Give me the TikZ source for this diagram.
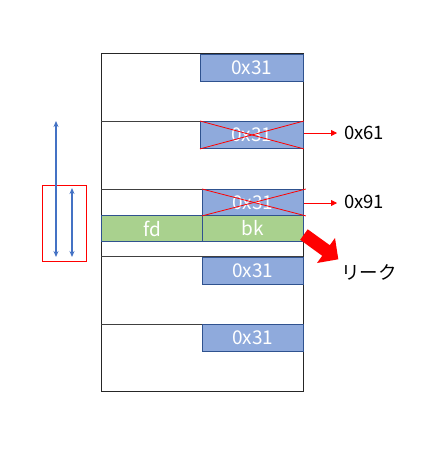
\documentclass[tikz,border=0pt]{standalone}
\usepackage{fontspec}
\setmainfont{Noto Sans CJK JP}
\usetikzlibrary{arrows.meta}
\definecolor{boxblue}{HTML}{8FAADC}
\definecolor{boxedge}{HTML}{2F528F}
\definecolor{boxgreen}{HTML}{A9D18E}
\definecolor{arrblue}{HTML}{4472C4}
\tikzset{
  cellbox/.style={draw=boxedge, line width=0.9pt, inner sep=0pt, anchor=north west,
    text=white, font=\fontsize{19}{22}\selectfont},
  bluebox/.style={cellbox, fill=boxblue},
  greenbox/.style={cellbox, fill=boxgreen},
  frame/.style={draw=black!85, line width=1pt},
  sep/.style={draw=black!75, line width=1pt},
  cross/.style={draw=red, line width=0.8pt},
  ptr/.style={draw=red, line width=0.8pt, -{Triangle[length=6pt,width=6pt]}},
  lbl/.style={font=\fontsize{18.5}{22}\selectfont, text=black, inner sep=0pt},
  dbl/.style={draw=arrblue, line width=1.8pt, {Stealth[length=6pt,width=5pt]}-{Stealth[length=6pt,width=5pt]}},
}
\begin{document}
\begin{tikzpicture}[x=1pt,y=-1pt]
\useasboundingbox (0,0) rectangle (439,469);
% outer frame and separators
\node[frame, minimum width=202pt, minimum height=338pt, inner sep=0pt, anchor=north west] (outer) at (101,53) {};
\coordinate (s1l) at (101,121); \coordinate (s1r) at (303,121);
\coordinate (s2l) at (101,189); \coordinate (s2r) at (303,189);
\coordinate (s3l) at (101,256); \coordinate (s3r) at (303,256);
\coordinate (s4l) at (101,324); \coordinate (s4r) at (303,324);
\draw[sep] (s1l) -- (s1r);
\draw[sep] (s2l) -- (s2r);
\draw[sep] (s3l) -- (s3r);
\draw[sep] (s4l) -- (s4r);
% boxes
\node[bluebox, minimum width=103pt, minimum height=27pt] (b1) at (200,53.5) {0x31};
\node[bluebox, minimum width=103pt, minimum height=27pt] (b2) at (200,121) {0x31};
\node[bluebox, minimum width=101pt, minimum height=26pt] (b3) at (202,189) {0x31};
\node[greenbox, minimum width=101pt, minimum height=26pt] (fd) at (101,215) {fd};
\node[greenbox, minimum width=101pt, minimum height=26pt] (bk) at (202,215) {bk};
\node[bluebox, minimum width=101pt, minimum height=27pt] (b4) at (202,256.5) {0x31};
\node[bluebox, minimum width=101pt, minimum height=27pt] (b5) at (202,324) {0x31};
% crosses
\draw[cross] (b2.north west) -- (b2.south east);
\draw[cross] (b2.south west) -- (b2.north east);
\draw[cross] (b3.north west) -- ([xshift=2pt]b3.south east);
\draw[cross] (b3.south west) -- ([xshift=2pt]b3.north east);
% pointer labels
\node[lbl, anchor=west] (l61) at (344,133) {0x61};
\node[lbl, anchor=west] (l91) at (344,202) {0x91};
\coordinate (p61) at (337,133);
\coordinate (p91) at (337,203);
\draw[ptr] (b2.east |- p61) -- (p61);
\draw[ptr] (b3.east |- p91) -- (p91);
% leak arrow
\fill[red] (307.7,229.3) -- (329.8,245.2) -- (335,238) -- (338.3,259.3) -- (317,263) -- (322.2,255.8) -- (300.2,239.8) -- cycle;
\node[lbl, anchor=west] (leak) at (341,272) {リーク};
% left range box and arrows
\node[draw=red, line width=1pt, minimum width=44pt, minimum height=76pt, inner sep=0pt, anchor=north west] (range) at (41.5,184.5) {};
\coordinate (a1t) at (56,121); \coordinate (a1b) at (56,257);
\coordinate (a2t) at (72,188); \coordinate (a2b) at (72,257);
\draw[dbl] (a1t) -- (a1b);
\draw[dbl] (a2t) -- (a2b);
\end{tikzpicture}
\end{document}
